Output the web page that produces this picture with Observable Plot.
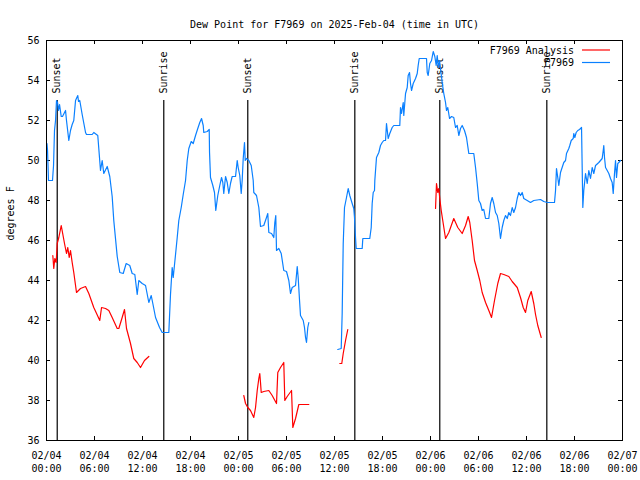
<!DOCTYPE html>
<html>
<head>
<meta charset="utf-8">
<script src="https://cdn.jsdelivr.net/npm/d3@7"></script>
<script src="https://cdn.jsdelivr.net/npm/@observablehq/plot@0.6"></script>
<style>
  html, body { margin: 0; padding: 0; background: #fff; }
  #chart { width: 640px; height: 480px; }
</style>
</head>
<body>
<div id="chart"></div>
<script>
// ---- data (hours since 2025-02-04 00:00 UTC, degrees F) ----
const titleText = "Dew Point for F7969 on 2025-Feb-04 (time in UTC)";
const yLabel = "degrees F";
const seriesNames = ["F7969 Analysis", "F7969"];
const seriesColors = ["#ff0000", "#0a80ff"];

const xTickHours = [0, 6, 12, 18, 24, 30, 36, 42, 48, 54, 60, 66, 72];
const xTickDates = ["02/04","02/04","02/04","02/04","02/05","02/05","02/05","02/05","02/06","02/06","02/06","02/06","02/07"];
const xTickTimes = ["00:00","06:00","12:00","18:00","00:00","06:00","12:00","18:00","00:00","06:00","12:00","18:00","00:00"];
const yTicks = [36, 38, 40, 42, 44, 46, 48, 50, 52, 54, 56];

const sunHours = [1.34, 14.66, 25.16, 38.54, 49.16, 62.54];
const sunLabels = ["Sunset", "Sunrise", "Sunset", "Sunrise", "Sunset", "Sunrise"];

const analysis = [
  [0.79,45.25],[0.91,44.6],[1.04,45.1],[1.21,44.9],[1.34,45.85],[1.54,46.15],[1.84,46.75],[2.0,46.4],
  [2.25,45.85],[2.5,45.35],[2.66,45.65],[2.84,45.15],[3.0,45.5],[3.21,44.9],[3.41,44.4],[3.75,43.4],
  [4.25,43.6],[4.88,43.7],[5.29,43.35],[5.91,42.65],[6.66,42.0],[6.88,42.65],[7.38,42.6],[7.79,42.5],
  [8.21,42.15],[8.84,41.6],[9.04,41.6],[9.46,42.15],[9.75,42.55],[10.0,41.6],[10.5,40.85],[10.91,40.1],
  [11.34,39.9],[11.75,39.65],[12.25,40.0],[12.79,40.2],
  [18.0,NaN],
  [24.66,38.25],[24.88,37.85],[25.16,37.65],[25.5,37.5],[25.91,37.15],[26.13,37.65],[26.34,38.5],
  [26.54,39.1],[26.66,39.35],[26.75,38.9],[26.84,38.4],[27.16,38.45],[27.79,38.5],[28.21,38.25],
  [28.75,37.85],[28.91,39.4],[29.25,39.65],[29.66,39.9],[29.79,38.0],[30.09,38.2],[30.63,38.5],
  [30.79,36.65],[31.13,37.1],[31.54,37.8],[31.75,37.8],[32.79,37.8],
  [34.5,NaN],
  [36.66,39.85],[36.91,39.85],[37.09,40.35],[37.38,41.0],[37.66,41.55],
  [43.0,NaN],
  [48.63,47.6],[48.75,48.85],[48.91,48.4],[49.04,48.6],[49.16,48.1],[49.34,47.5],[49.59,46.85],
  [49.88,46.1],[50.29,46.4],[50.91,47.1],[51.41,46.65],[51.96,46.35],[52.38,46.75],[52.71,47.2],
  [52.91,46.9],[53.21,46.0],[53.5,45.0],[53.84,44.5],[54.16,44.0],[54.46,43.4],[54.88,42.9],
  [55.29,42.5],[55.63,42.15],[56.0,43.0],[56.41,43.85],[56.75,44.35],[57.16,44.3],[57.79,44.2],
  [58.21,43.95],[58.84,43.65],[59.25,43.15],[59.59,42.65],[59.88,42.4],[60.16,43.0],[60.59,43.45],
  [60.91,42.85],[61.13,42.3],[61.41,41.75],[61.84,41.15]
];

const observed = [
  [0.06,50.85],[0.13,50.5],[0.25,49.0],[0.75,49.0],[0.88,49.75],[1.0,51.5],[1.13,52.0],[1.25,53.0],
  [1.38,52.9],[1.5,52.5],[1.63,52.8],[1.84,52.2],[2.0,52.2],[2.38,52.5],[2.5,52.0],[2.79,51.0],
  [3.0,51.5],[3.21,51.8],[3.41,52.0],[3.63,53.0],[3.91,53.25],[4.0,52.95],[4.16,53.0],[4.46,52.3],
  [4.88,51.4],[5.0,51.3],[5.71,51.3],[5.91,51.4],[6.41,51.25],[6.75,49.5],[6.96,50.0],[7.16,49.35],
  [7.59,49.7],[7.91,49.2],[8.21,48.2],[8.41,47.0],[8.84,45.2],[9.16,44.4],[9.59,44.35],[9.96,44.85],
  [10.41,44.75],[10.71,44.35],[11.04,44.3],[11.34,43.3],[11.54,44.0],[11.96,43.85],[12.38,43.75],
  [12.79,42.9],[13.09,43.25],[13.29,42.85],[13.63,42.15],[14.13,41.65],[14.46,41.4],[15.29,41.4],
  [15.5,43.3],[15.71,44.65],[15.84,44.15],[16.13,45.3],[16.34,46.15],[16.54,47.0],[16.84,47.65],
  [17.09,48.3],[17.38,49.0],[17.59,50.0],[17.79,50.6],[18.09,50.95],[18.34,50.85],[18.63,51.25],
  [18.91,51.6],[19.16,51.9],[19.38,52.1],[19.59,51.75],[19.66,51.4],[20.09,51.45],[20.34,51.55],
  [20.38,50.4],[20.5,49.15],[20.79,48.75],[21.0,48.4],[21.16,47.5],[21.41,48.25],[21.66,48.75],
  [21.88,49.15],[22.04,48.9],[22.16,48.35],[22.38,49.2],[22.59,48.9],[22.79,48.35],[23.0,48.85],
  [23.21,49.2],[23.63,49.2],[23.84,50.0],[23.96,49.65],[24.16,49.25],[24.34,48.35],[24.46,49.0],
  [24.59,50.1],[24.75,50.9],[24.84,50.0],[25.0,50.1],[25.29,50.0],[25.59,49.75],[25.84,49.0],
  [25.91,48.4],[26.25,48.25],[26.54,47.65],[26.75,46.7],[27.16,46.75],[27.5,47.15],[27.66,47.35],
  [27.79,46.4],[28.13,46.35],[28.41,46.15],[28.54,46.9],[28.66,47.25],[28.75,45.5],[29.04,45.6],
  [29.34,45.35],[29.66,44.5],[30.0,44.45],[30.29,44.0],[30.5,43.35],[30.71,43.65],[31.13,43.75],
  [31.34,44.7],[31.46,44.15],[31.63,43.0],[31.75,42.25],[32.09,42.0],[32.25,41.65],[32.38,41.15],
  [32.5,40.9],[32.66,41.65],[32.79,41.9],
  [34.5,NaN],
  [36.41,40.55],[36.84,40.6],[36.96,42.35],[37.09,45.85],[37.25,47.65],[37.5,48.15],[37.71,48.6],
  [37.91,48.25],[38.21,47.85],[38.41,47.6],[38.5,47.15],[38.59,46.4],[38.71,45.6],[39.46,45.6],
  [39.54,46.1],[40.41,46.1],[40.59,46.65],[40.71,47.85],[40.84,48.4],[41.0,48.5],[41.04,49.0],
  [41.13,49.5],[41.25,50.15],[41.54,50.4],[41.75,50.75],[41.96,50.9],[42.16,51.0],[42.38,51.0],
  [42.5,51.85],[42.71,51.1],[42.91,51.35],[43.21,51.65],[43.41,51.75],[44.16,51.75],[44.25,52.65],
  [44.38,52.35],[44.59,52.9],[44.66,52.25],[44.88,53.35],[45.09,53.65],[45.21,54.25],[45.38,54.4],
  [45.5,53.85],[45.63,53.5],[45.84,53.85],[46.13,54.1],[46.34,54.35],[46.46,54.75],[46.59,55.1],
  [47.5,55.1],[47.59,54.4],[47.71,54.25],[47.91,54.85],[48.13,55.0],[48.34,55.45],[48.54,55.2],
  [48.71,54.75],[48.84,55.25],[48.96,54.65],[49.13,55.0],[49.25,54.6],[49.46,53.9],[49.66,53.35],
  [49.88,52.9],[50.0,52.5],[50.16,52.65],[50.38,52.1],[50.63,52.2],[50.91,52.15],[51.13,51.65],
  [51.34,51.75],[51.54,51.25],[51.75,51.6],[51.96,51.75],[52.25,51.5],[52.5,51.15],[52.79,50.35],
  [53.41,50.35],[53.63,49.65],[53.84,48.85],[54.04,48.0],[54.25,47.85],[54.46,47.5],[54.66,47.55],
  [54.88,47.1],[55.29,47.1],[55.5,47.85],[55.71,48.15],[55.91,47.85],[56.13,47.4],[56.34,47.25],
  [56.54,46.85],[56.75,46.1],[56.96,46.65],[57.16,47.0],[57.38,47.25],[57.59,47.1],[57.79,47.4],
  [58.0,47.25],[58.21,47.65],[58.41,47.4],[58.63,47.65],[58.84,48.1],[59.04,48.4],[59.25,48.25],
  [59.46,48.4],[59.66,48.1],[60.09,48.0],[60.5,47.9],[60.91,48.0],[61.75,48.05],[62.16,47.95],
  [62.59,47.9],[63.5,47.9],[63.63,48.5],[63.75,49.6],[63.91,49.15],[64.04,48.75],[64.25,49.4],
  [64.66,49.9],[64.88,50.0],[65.0,50.35],[65.29,50.6],[65.41,50.75],[65.59,51.0],[65.84,51.1],
  [65.91,51.35],[66.04,51.15],[66.21,51.4],[66.41,51.5],[66.63,51.55],[66.88,51.65],[66.96,49.65],
  [67.04,47.65],[67.16,48.5],[67.38,49.35],[67.59,48.85],[67.79,49.5],[68.0,49.1],[68.21,49.65],
  [68.41,49.35],[68.63,49.75],[69.04,49.9],[69.46,50.1],[69.59,50.5],[69.66,50.75],[69.75,50.15],
  [69.88,49.65],[70.09,49.5],[70.29,49.35],[70.5,49.1],[70.71,48.9],[70.84,48.35],[71.0,49.35],
  [71.13,50.0],[71.25,49.15],[71.41,49.85],[71.54,49.9],[71.75,50.0]
];

// ---- build tables ----
const toRows = arr => arr.map(([h, v]) => ({h, v}));
const analysisRows = toRows(analysis);
const observedRows = toRows(observed);
const sunRows = sunHours.map((h, i) => ({h, label: sunLabels[i]}));
const xTickRows = xTickHours.map((h, i) => ({h, label: xTickDates[i] + "\n" + xTickTimes[i]}));

const font = "'DejaVu Sans Mono', 'Liberation Mono', monospace";
const plotW = 640 - 46 - 18, plotH = 480 - 40 - 40;

const chart = Plot.plot({
  width: 640,
  height: 480,
  marginLeft: 46,
  marginRight: 18,
  marginTop: 40,
  marginBottom: 40,
  style: {fontFamily: font, fontSize: "10px", background: "#ffffff", color: "#000"},
  x: {type: "linear", domain: [0, 72], axis: null},
  y: {type: "linear", domain: [36, 56], axis: null},
  marks: [
    // ticks (inward, mirrored)
    Plot.ruleX(xTickHours, {x: d => d, insetTop: plotH - 4, stroke: "#000"}),
    Plot.ruleX(xTickHours, {x: d => d, insetBottom: plotH - 4, stroke: "#000"}),
    Plot.ruleY(yTicks, {y: d => d, insetRight: plotW - 4, stroke: "#000"}),
    Plot.ruleY(yTicks, {y: d => d, insetLeft: plotW - 4, stroke: "#000"}),
    // sunrise / sunset
    Plot.ruleX(sunRows, {x: "h", y1: 36, y2: 53.0, stroke: "#000", strokeWidth: 1.2}),
    Plot.text(sunRows, {x: "h", y: 53.35, text: "label", rotate: -90, textAnchor: "start", lineAnchor: "middle", fill: "#000"}),
    // series
    Plot.line(analysisRows, {x: "h", y: "v", stroke: seriesColors[0], strokeWidth: 1.2}),
    Plot.line(observedRows, {x: "h", y: "v", stroke: seriesColors[1], strokeWidth: 1.2}),
    Plot.frame({stroke: "#000", strokeWidth: 1}),
    // axis labels
    Plot.text(xTickRows, {x: "h", text: "label", frameAnchor: "bottom", dy: 9, lineAnchor: "top", lineHeight: 1.3, fill: "#000"}),
    Plot.text(yTicks, {y: d => d, text: d => String(d), frameAnchor: "left", dx: -7, textAnchor: "end", fill: "#000"}),
    Plot.text([yLabel], {frameAnchor: "left", dx: -36, rotate: -90, fill: "#000"}),
    Plot.text([titleText], {frameAnchor: "top", dy: -20, fill: "#000"})
  ]
});

document.getElementById("chart").appendChild(chart);

// ---- legend (key, top right inside plot) ----
const svg = d3.select(chart);
const key = svg.append("g").attr("font-family", font).attr("font-size", "10px");
seriesNames.forEach((name, i) => {
  const yy = 50 + i * 12.5;
  key.append("text").attr("x", 574).attr("y", yy).attr("dy", "0.35em")
    .attr("text-anchor", "end").attr("fill", "#000").text(name);
  key.append("line").attr("x1", 582).attr("x2", 610).attr("y1", yy).attr("y2", yy)
    .attr("stroke", seriesColors[i]).attr("stroke-width", 1.2);
});
</script>
</body>
</html>
